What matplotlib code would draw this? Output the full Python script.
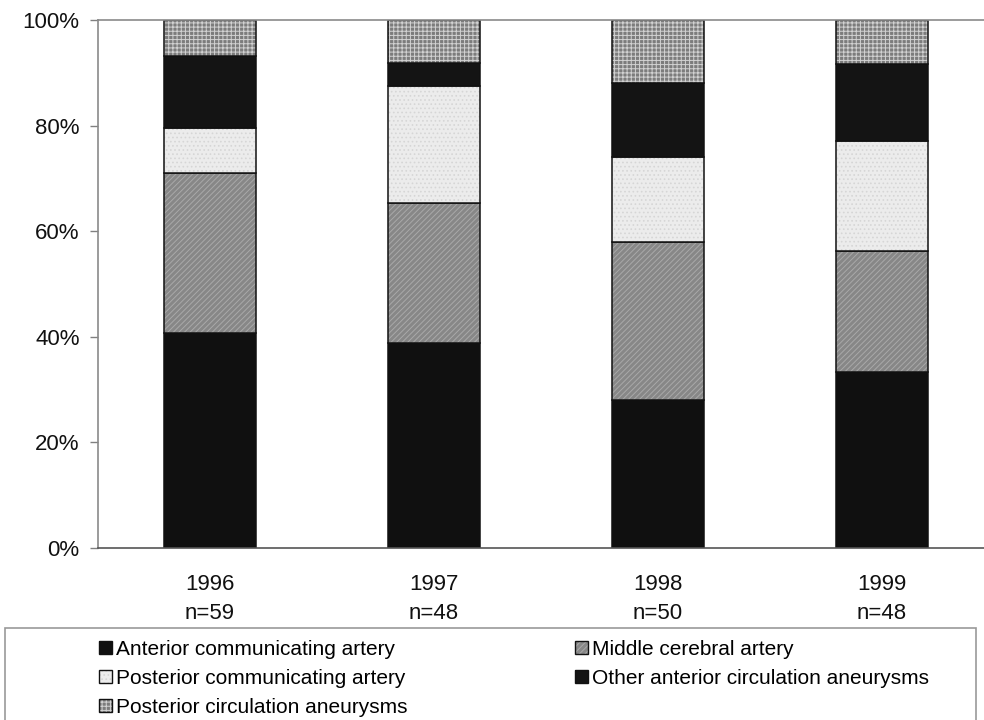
import matplotlib
matplotlib.use("Agg")
import matplotlib.pyplot as plt
from matplotlib.patches import Patch, Rectangle
from matplotlib.legend_handler import HandlerTuple
import numpy as np

plt.rcParams['font.family'] = ['Liberation Sans', 'DejaVu Sans']
plt.rcParams['hatch.linewidth'] = 0.7

years = ["1996", "1997", "1998", "1999"]
counts = [59, 48, 50, 48]
series = ["Anterior communicating artery", "Middle cerebral artery",
          "Posterior communicating artery", "Other anterior circulation aneurysms",
          "Posterior circulation aneurysms"]
# percentages per category (bottom to top)
aca = [40.7, 38.8, 28.0, 33.3]
mca = [30.4, 26.5, 30.0, 22.9]
pcomm = [8.5, 22.2, 16.0, 20.8]
other = [13.6, 4.3, 14.0, 14.6]
pcirc = [6.8, 8.2, 12.0, 8.4]
values = [aca, mca, pcomm, other, pcirc]

faces = ['#101010', '#878787', '#ececec', '#141414', '#7c7c7c']
hatches = [None, '//////', '....', None, '++++']
hcolors = ['#101010', '#a9a9a9', '#d6d6d6', '#141414', '#d2d2d2']

fig = plt.figure(figsize=(9.84, 7.2), dpi=100)
ax = fig.add_axes([97.7 / 984, 172 / 720, 896 / 984, 528 / 720])

x = np.arange(len(years))
w = 0.41
bottom = np.zeros(len(years))
handles = []
for vals, fc, h, hc, name in zip(values, faces, hatches, hcolors, series):
    ax.bar(x, vals, w, bottom=bottom, color=fc, hatch=h, edgecolor=hc, linewidth=0)
    ax.bar(x, vals, w, bottom=bottom, fill=False, edgecolor='#111111', linewidth=1.1)
    bottom += np.array(vals)
    p1 = Patch(facecolor=fc, hatch=h, edgecolor=hc, linewidth=0)
    p2 = Patch(fill=False, edgecolor='#111111', linewidth=1.0)
    handles.append((p1, p2))

ax.set_xlim(-0.5, 3.5)
ax.set_ylim(0, 100)
ax.set_yticks([0, 20, 40, 60, 80, 100])
ax.set_yticklabels([f"{v}%" for v in [0, 20, 40, 60, 80, 100]])
ax.set_xticks(x)
ax.set_xticklabels([f"{y}\nn={n}" for y, n in zip(years, counts)], linespacing=1.5)
ax.tick_params(axis='y', length=6, width=1, color='#808080', pad=7, labelsize=16, labelcolor='#111111')
ax.tick_params(axis='x', length=0, pad=19, labelsize=16, labelcolor='#111111')
for s in ['left', 'bottom', 'top']:
    ax.spines[s].set_color('#8a8a8a')
    ax.spines[s].set_linewidth(1.2)
ax.spines['bottom'].set_color('#555555')
ax.spines['right'].set_visible(False)

# legend frame
fig.patches.append(Rectangle((5 / 984, -0.02), 971 / 984, (720 - 628) / 720 + 0.02,
                             transform=fig.transFigure, fill=False,
                             edgecolor='#999999', linewidth=1.2))
# legend order: row-wise (ACA, MCA / PComm, Other / PCirc)
order = [0, 2, 4, 1, 3]
leg = fig.legend([handles[i] for i in order], [series[i] for i in order],
                 handler_map={tuple: HandlerTuple(ndivide=1, pad=0)},
                 loc='upper left', bbox_to_anchor=(99 / 984, (720 - 640) / 720),
                 ncol=2, frameon=False, fontsize=15, borderpad=0, borderaxespad=0,
                 handlelength=0.62, handleheight=0.62, handletextpad=0.2,
                 labelspacing=0.47, columnspacing=8.05)

fig.savefig("out.png", dpi=100)
